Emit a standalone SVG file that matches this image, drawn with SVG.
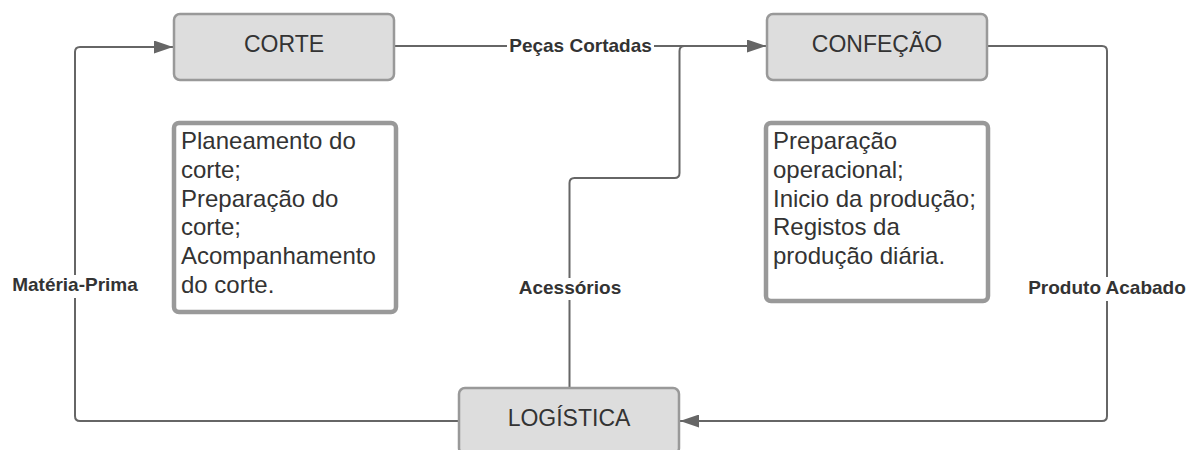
<svg xmlns="http://www.w3.org/2000/svg" width="1192" height="450" viewBox="0 0 1192 450">
  <style>
    .proc { fill: #dddddd; stroke: #999999; stroke-width: 2.5; }
    .note { fill: #ffffff; stroke: #999999; stroke-width: 4.5; }
    .title { font-family: "Liberation Sans", Arial, sans-serif; font-size: 23px; fill: #333333; text-anchor: middle; }
    .body { font-family: "Liberation Sans", Arial, sans-serif; font-size: 24px; fill: #333333; }
    .edge { fill: none; stroke: #666666; stroke-width: 2; }
    .lbl { font-family: "Liberation Sans", Arial, sans-serif; font-size: 19px; font-weight: bold; fill: #333333; text-anchor: middle; }
    .lblbg { fill: #ffffff; }
  </style>
  <defs>
    <marker id="arrow" viewBox="0 0 19 13" refX="19" refY="6.5" markerWidth="19" markerHeight="13" markerUnits="userSpaceOnUse" orient="auto">
      <path d="M0,0 L19,6.5 L0,13 Z" fill="#666666"/>
    </marker>
  </defs>
  <rect width="1192" height="450" fill="#ffffff"/>

  <g id="connectors">
    <!-- CORTE -> CONFEÇÃO -->
    <path class="edge" d="M394,46 H766" marker-end="url(#arrow)"/>
    <!-- LOGÍSTICA -> CONFEÇÃO (acessórios) -->
    <path class="edge" d="M569.5,388 V183 Q569.5,178 574.5,178 H674.5 Q679.5,178 679.5,173 V51 Q679.5,46 684.5,46"/>
    <!-- LOGÍSTICA -> CORTE (matéria-prima) -->
    <path class="edge" d="M459,421 H80 Q75,421 75,416 V52 Q75,47 80,47 H173" marker-end="url(#arrow)"/>
    <!-- CONFEÇÃO -> LOGÍSTICA (produto acabado) -->
    <path class="edge" d="M987,46 H1102 Q1107,46 1107,51 V416 Q1107,421 1102,421 H680" marker-end="url(#arrow)"/>

    <rect class="lblbg" x="507" y="35" width="147" height="22"/>
    <text class="lbl" x="580.5" y="52">Peças Cortadas</text>
    <rect class="lblbg" x="8" y="275" width="134" height="23"/>
    <text class="lbl" x="75" y="291">Matéria-Prima</text>
    <rect class="lblbg" x="512" y="278" width="116" height="22"/>
    <text class="lbl" x="570" y="294">Acessórios</text>
    <rect class="lblbg" x="1024" y="277" width="166" height="24"/>
    <text class="lbl" x="1107" y="294">Produto Acabado</text>
  </g>

  <g id="corte">
    <rect class="proc" x="174" y="14" width="220" height="66" rx="6"/>
    <text class="title" x="284" y="52">CORTE</text>
  </g>

  <g id="confecao">
    <rect class="proc" x="767" y="14" width="220" height="66" rx="6"/>
    <text class="title" x="877" y="52">CONFEÇÃO</text>
  </g>

  <g id="logistica">
    <rect class="proc" x="459" y="388" width="220" height="66" rx="6"/>
    <text class="title" x="569" y="426">LOGÍSTICA</text>
  </g>

  <g id="corte-notas">
    <rect class="note" x="174" y="123" width="222" height="189" rx="5"/>
    <text class="body">
      <tspan x="181" y="149">Planeamento do</tspan>
      <tspan x="181" y="178">corte;</tspan>
      <tspan x="181" y="207">Preparação do</tspan>
      <tspan x="181" y="235">corte;</tspan>
      <tspan x="181" y="264">Acompanhamento</tspan>
      <tspan x="181" y="293">do corte.</tspan>
    </text>
  </g>

  <g id="confecao-notas">
    <rect class="note" x="766" y="123" width="222" height="178" rx="5"/>
    <text class="body">
      <tspan x="773" y="149">Preparação</tspan>
      <tspan x="773" y="178">operacional;</tspan>
      <tspan x="773" y="207">Inicio da produção;</tspan>
      <tspan x="773" y="235">Registos da</tspan>
      <tspan x="773" y="264">produção diária.</tspan>
    </text>
  </g>
</svg>
